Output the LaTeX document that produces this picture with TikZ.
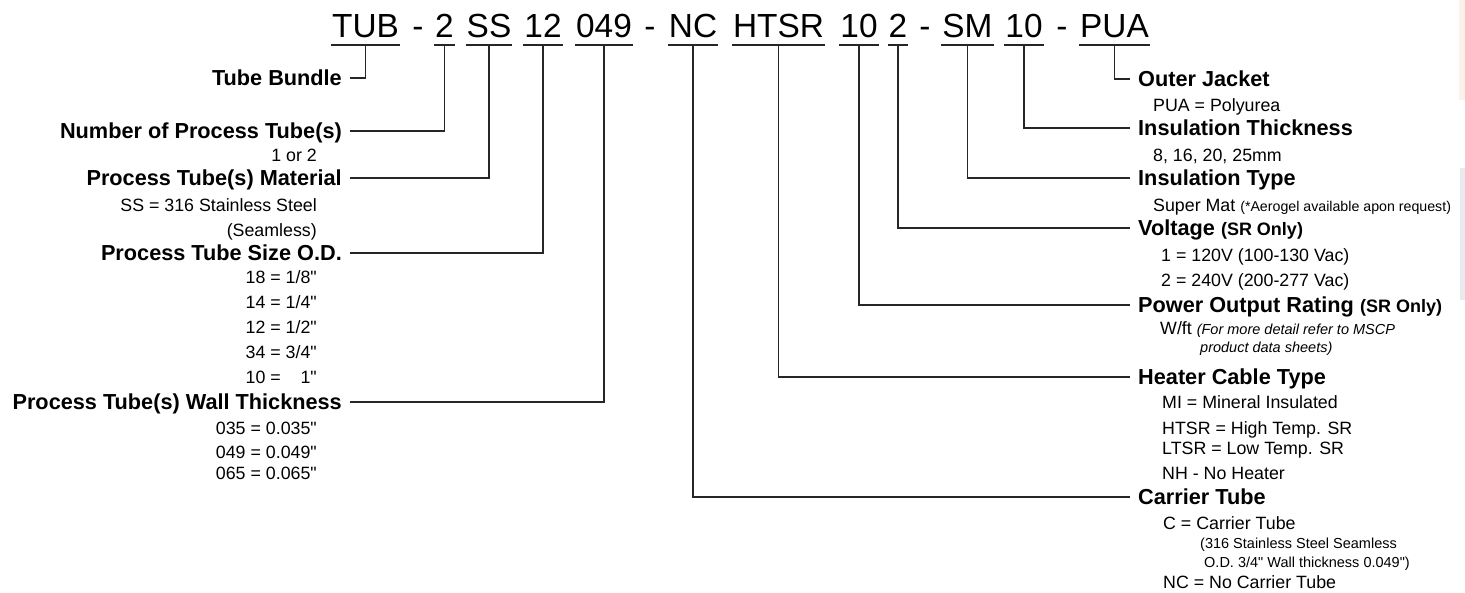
\documentclass[tikz,border=0pt]{standalone}
\usepackage{fontspec}
\usepackage{xcolor}
\setmainfont{Liberation Sans}[Ligatures=TeXOff]
\definecolor{edgepeach}{HTML}{FCF1E8}
\definecolor{edgegrey}{HTML}{E9E9F0}

\begin{document}
\begin{tikzpicture}[x=1pt,y=-1pt,
  codepart/.style={anchor=base,font=\fontsize{33.4}{40}\selectfont,text depth=0pt,inner xsep=1pt,inner ysep=8pt},
  heading/.style={font=\bfseries\fontsize{21.7}{26}\selectfont,text height=15.5pt,text depth=0pt,inner xsep=8pt,inner ysep=0pt},
  choice/.style={font=\fontsize{17.8}{21}\selectfont,text height=12.7pt,text depth=0pt,inner sep=0pt},
  smallnote/.style={font=\fontsize{14.5}{17}\selectfont,text height=10.4pt,text depth=0pt,inner sep=0pt},
  remark/.style={smallnote,font=\itshape\fontsize{14.5}{17}\selectfont},
  leader/.style={draw=black!85,line width=1.6pt}]
\useasboundingbox (0,0) rectangle (1465,592);
\fill[edgepeach] (1459,0) rectangle (1465,100);
\fill[edgegrey] (1460,168) rectangle (1465,300);

\node[codepart] (tub) at (365.5,37) {TUB};
\node[codepart] (d1) at (418,37) {-};
\node[codepart] (num) at (444.5,37) {2};
\node[codepart] (mat) at (489,37) {SS};
\node[codepart] (size) at (543,37) {12};
\node[codepart] (wall) at (604,37) {049};
\node[codepart] (d2) at (650,37) {-};
\node[codepart] (carrier) at (693,37) {NC};
\node[codepart] (heater) at (778.5,37) {HTSR};
\node[codepart] (power) at (859,37) {10};
\node[codepart] (volt) at (898,37) {2};
\node[codepart] (d3) at (925,37) {-};
\node[codepart] (ins) at (967.5,37) {SM};
\node[codepart] (thick) at (1024,37) {10};
\node[codepart] (d4) at (1062,37) {-};
\node[codepart] (jacket) at (1114.5,37) {PUA};
\foreach \n in {tub,num,mat,size,wall,carrier,heater,power,volt,ins,thick,jacket}
  \draw[leader] (\n.south west) -- (\n.south east);

\node[heading,anchor=east] (hTub) at (350,78) {Tube Bundle};
\node[heading,anchor=east] (hNum) at (350,131) {Number of Process Tube(s)};
\node[heading,anchor=east] (hMat) at (350,178) {Process Tube(s) Material};
\node[heading,anchor=east] (hSize) at (350,253) {Process Tube Size O.D.};
\node[heading,anchor=east] (hWall) at (350,402) {Process Tube(s) Wall Thickness};

\node[choice,anchor=east] (o1) at (317,155) {1 or 2};
\node[choice,anchor=east] (o2) at (317,205) {SS = 316 Stainless Steel};
\node[choice,anchor=east] (o3) at (317,230) {(Seamless)};
\node[choice,anchor=east] (o4) at (317,277) {18 = 1/8"};
\node[choice,anchor=east] (o5) at (317,302) {14 = 1/4"};
\node[choice,anchor=east] (o6) at (317,327) {12 = 1/2"};
\node[choice,anchor=east] (o7) at (317,352) {34 = 3/4"};
\node[choice,anchor=east] (o8) at (317,377) {10 = \phantom{1/}1"};
\node[choice,anchor=east] (o9) at (317,428) {035 = 0.035"};
\node[choice,anchor=east] (o10) at (317,452) {049 = 0.049"};
\node[choice,anchor=east] (o11) at (317,473) {065 = 0.065"};

\node[heading,anchor=west] (hJacket) at (1130,79) {Outer Jacket};
\node[heading,anchor=west] (hThick) at (1130,128) {Insulation Thickness};
\node[heading,anchor=west] (hIns) at (1130,178) {Insulation Type};
\node[heading,anchor=west] (hVolt) at (1130,228) {Voltage {\fontsize{18}{20}\selectfont(SR Only)}};
\node[heading,anchor=west] (hPower) at (1130,305) {Power Output Rating {\fontsize{18}{20}\selectfont(SR Only)}};
\node[heading,anchor=west] (hHeater) at (1130,377) {Heater Cable Type};
\node[heading,anchor=west] (hCarrier) at (1130,497) {Carrier Tube};

\node[choice,anchor=west] (r1) at (1153,105) {PUA = Polyurea};
\node[choice,anchor=west] (r2) at (1153,155) {8, 16, 20, 25mm};
\node[choice,anchor=west] (r3) at (1153,205) {Super Mat {\fontsize{14.2}{16}\selectfont(*Aerogel available apon request)}};
\node[choice,anchor=west] (r4) at (1161,255) {1 = 120V (100-130 Vac)};
\node[choice,anchor=west] (r5) at (1161,280) {2 = 240V (200-277 Vac)};
\node[choice,anchor=west] (r6) at (1160,328) {W/ft {\itshape\fontsize{14.5}{17}\selectfont(For more detail refer to MSCP}};
\node[remark,anchor=west] (r7) at (1200,347) {product data sheets)};
\node[choice,anchor=west] (r8) at (1162,402) {MI = Mineral Insulated};
\node[choice,anchor=west] (r9) at (1162,428) {HTSR = High Temp. SR};
\node[choice,anchor=west] (r10) at (1162,448) {LTSR = Low Temp. SR};
\node[choice,anchor=west] (r11) at (1162,473) {NH - No Heater};
\node[choice,anchor=west] (r12) at (1163,523) {C = Carrier Tube};
\node[smallnote,anchor=west] (r13) at (1200,543) {(316 Stainless Steel Seamless};
\node[smallnote,anchor=west] (r14) at (1204,562) {O.D. 3/4" Wall thickness 0.049")};
\node[choice,anchor=west] (r15) at (1163,582) {NC = No Carrier Tube};

\draw[leader] (tub.south) |- (hTub.east);
\draw[leader] (num.south) |- (hNum.east);
\draw[leader] (mat.south) |- (hMat.east);
\draw[leader] (size.south) |- (hSize.east);
\draw[leader] (wall.south) |- (hWall.east);
\draw[leader] (carrier.south) |- (hCarrier.west);
\draw[leader] (heater.south) |- (hHeater.west);
\draw[leader] (power.south) |- (hPower.west);
\draw[leader] (volt.south) |- (hVolt.west);
\draw[leader] (ins.south) |- (hIns.west);
\draw[leader] (thick.south) |- (hThick.west);
\draw[leader] (jacket.south) |- (hJacket.west);
\end{tikzpicture}
\end{document}
